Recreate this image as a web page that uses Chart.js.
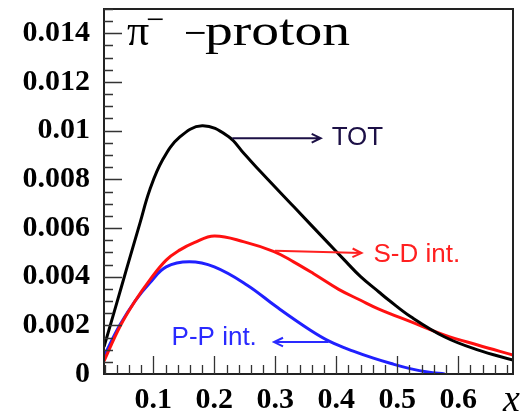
<!DOCTYPE html>
<html>
<head>
<meta charset="utf-8">
<script src="https://cdn.jsdelivr.net/npm/chart.js@4.4.0/dist/chart.umd.min.js"></script>
<style>
  html, body { margin: 0; padding: 0; background: #fff; }
  #wrap { width: 529px; height: 416px; }
</style>
</head>
<body>
<div id="wrap"><canvas id="myChart" width="529" height="416"></canvas></div>
<script>
// Curves

const totX = [0.019, 0.04, 0.055, 0.078, 0.094, 0.115, 0.143, 0.18, 0.222, 0.249, 0.276, 0.3305, 0.385, 0.412, 0.44, 0.47, 0.486, 0.523, 0.578, 0.632, 0.69];
const totY = [0.00112, 0.00292, 0.00423, 0.0062, 0.00756, 0.00879, 0.00973, 0.0102, 0.00978, 0.00905, 0.00831, 0.00687, 0.00543, 0.00472, 0.0040, 0.00337, 0.00304, 0.00234, 0.00152, 0.00099, 0.00057];

const sdX = [0.019, 0.045, 0.07, 0.094, 0.121, 0.143, 0.167, 0.2, 0.249, 0.298, 0.33, 0.363, 0.404, 0.44, 0.469, 0.523, 0.578, 0.632, 0.69];
const sdY = [0.00053, 0.00194, 0.0030, 0.00386, 0.00468, 0.00509, 0.0054, 0.00567, 0.00543, 0.00503, 0.00461, 0.00412, 0.00348, 0.00303, 0.00268, 0.00214, 0.0016, 0.00119, 0.00078];

const ppX = [0.019, 0.045, 0.07, 0.094, 0.121, 0.159, 0.2, 0.254, 0.302, 0.357, 0.39, 0.428, 0.461, 0.49, 0.523, 0.55, 0.578];
const ppY = [0.00074, 0.00201, 0.0030, 0.00374, 0.0044, 0.00461, 0.0044, 0.00365, 0.00276, 0.00181, 0.00133, 0.00094, 0.00065, 0.00043, 0.00021, 0.00008, 0.0];

const xTicks = [0.1, 0.2, 0.3, 0.4, 0.5, 0.6];
const yTicks = [0, 0.002, 0.004, 0.006, 0.008, 0.01, 0.012, 0.014];

const xMin = 0.019, xMax = 0.69;
const yMin = 0, yMax = 0.015;



function pts(xs, ys) {
  return xs.map((x, i) => ({ x: x, y: ys[i] }));
}



// Frame, inside ticks, title and arrow labels

const decorPlugin = {
  id: 'decor',
  afterDraw(chart) {
    const c = chart.ctx;
    const a = chart.chartArea;
    const xs = chart.scales.x;
    const ys = chart.scales.y;

    c.save();

    // frame
    c.strokeStyle = '#222';
    c.lineWidth = 2;
    c.strokeRect(a.left, a.top, a.right - a.left, a.bottom - a.top);

    // ticks
    c.strokeStyle = '#333';
    c.lineWidth = 1.3;
    c.beginPath();
    for (let i = 1; i <= 34; i++) {
      const v = i * 0.02;
      if (v < xMin || v > xMax) continue;
      const px = Math.round(xs.getPixelForValue(v)) + 0.5;
      const major = i % 5 === 0;
      c.moveTo(px, a.bottom);
      c.lineTo(px, a.bottom - (major ? 18 : 9));
    }
    for (let i = 1; i <= 30; i++) {
      const v = i * 0.0005;
      const py = Math.round(ys.getPixelForValue(v)) + 0.5;
      const major = i % 4 === 0;
      c.moveTo(a.left, py);
      c.lineTo(a.left + (major ? 18 : 9), py);
    }
    c.stroke();

    // title
    c.fillStyle = '#000';
    c.textBaseline = 'alphabetic';
    c.textAlign = 'left';
    c.font = '44px "Liberation Serif"';
    c.fillText('π', 127, 45);
    c.font = '32px "Liberation Serif"';
    c.fillText('−', 146, 30);
    c.font = '40px "Liberation Serif"';
    c.fillText('−', 184, 46);
    c.font = '44px "Liberation Serif"';
    const w = c.measureText('proton').width;
    c.save();
    c.translate(205, 45);
    c.scale(145 / w, 1);
    c.fillText('proton', 0, 0);
    c.restore();

    // x axis title
    c.font = 'italic 38px "Liberation Serif"';
    c.fillText('x', 503, 411);

    // arrows
    function arrow(x1, y1, x2, y2, color) {
      const p1x = xs.getPixelForValue(x1), p1y = ys.getPixelForValue(y1);
      const p2x = xs.getPixelForValue(x2), p2y = ys.getPixelForValue(y2);
      const ang = Math.atan2(p2y - p1y, p2x - p1x);
      c.strokeStyle = color;
      c.lineWidth = 2;
      c.beginPath();
      c.moveTo(p1x, p1y);
      c.lineTo(p2x, p2y);
      c.moveTo(p2x - 10 * Math.cos(ang - 0.45), p2y - 10 * Math.sin(ang - 0.45));
      c.lineTo(p2x, p2y);
      c.lineTo(p2x - 10 * Math.cos(ang + 0.45), p2y - 10 * Math.sin(ang + 0.45));
      c.stroke();
    }
    function label(text, x, y, color) {
      c.fillStyle = color;
      c.font = '26px "Liberation Sans"';
      c.textBaseline = 'middle';
      c.fillText(text, xs.getPixelForValue(x), ys.getPixelForValue(y));
    }

    arrow(0.2294, 0.00969, 0.3745, 0.00969, '#1c1046');
    label('TOT', 0.3925, 0.00969, '#1c1046');

    arrow(0.2995, 0.00506, 0.4415, 0.00497, '#ff2020');
    label('S-D int.', 0.461, 0.00489, '#ff2020');

    arrow(0.3875, 0.00131, 0.2979, 0.00131, '#2a2aff');
    label('P-P int.', 0.1299, 0.00148, '#2a2aff');

    c.restore();
  }
};



const ctx = document.getElementById('myChart').getContext('2d');

const myChart = new Chart(ctx, {
  type: 'line',
  data: {
    datasets: [
      {
        label: 'TOT',
        data: pts(totX, totY),
        borderColor: '#000',
        borderWidth: 3,
        pointRadius: 0,
        tension: 0.4
      },
      {
        label: 'S-D int.',
        data: pts(sdX, sdY),
        borderColor: '#ff1010',
        borderWidth: 3,
        pointRadius: 0,
        tension: 0.4
      },
      {
        label: 'P-P int.',
        data: pts(ppX, ppY),
        borderColor: '#2020ff',
        borderWidth: 3,
        pointRadius: 0,
        tension: 0.4
      }
    ]
  },
  options: {
    responsive: false,
    animation: false,
    devicePixelRatio: 1,
    layout: { padding: { top: 9, right: 16, left: 0, bottom: 0 } },
    plugins: {
      legend: { display: false },
      tooltip: { enabled: false }
    },
    scales: {
      x: {
        type: 'linear',
        min: xMin,
        max: xMax,
        afterBuildTicks: (axis) => { axis.ticks = xTicks.map(v => ({ value: v })); },
        afterFit: (axis) => {
          axis.height = 42;
          axis.paddingLeft = 0;
          axis.paddingRight = 0;
        },
        ticks: {
          color: '#000',
          padding: 8,
          maxRotation: 0,
          font: { family: '"Liberation Serif"', size: 30, weight: 'bold' },
          callback: (v) => String(+v.toFixed(1))
        },
        grid: { display: false, drawTicks: false },
        border: { display: false }
      },
      y: {
        type: 'linear',
        min: yMin,
        max: yMax,
        afterBuildTicks: (axis) => { axis.ticks = yTicks.map(v => ({ value: v })); },
        afterFit: (axis) => {
          axis.width = 104;
          axis.paddingTop = 0;
          axis.paddingBottom = 0;
        },
        ticks: {
          color: '#000',
          padding: 14,
          font: { family: '"Liberation Serif"', size: 30, weight: 'bold' },
          callback: (v) => String(+v.toFixed(3))
        },
        grid: { display: false, drawTicks: false },
        border: { display: false }
      }
    }
  },
  plugins: [decorPlugin]
});
</script>
</body>
</html>
